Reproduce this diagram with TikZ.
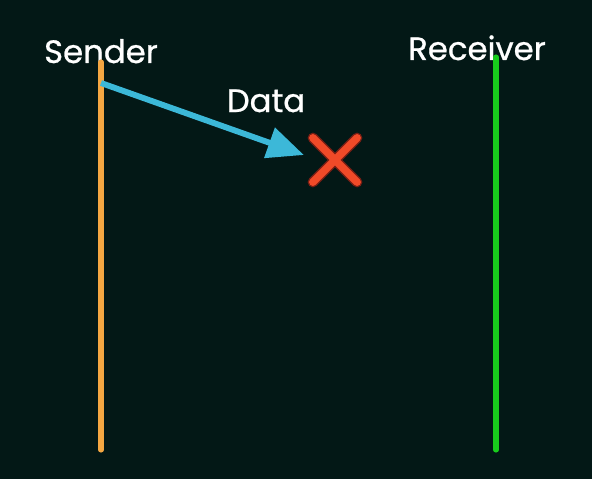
\documentclass[tikz,border=0pt]{standalone}
\usepackage{fontspec}
\setmainfont{Poppins}
\newfontfamily\labelfont{Poppins}[FakeBold=0.8]
\usepackage{tikz}
\usetikzlibrary{arrows.meta,positioning,calc}
\definecolor{bgdark}{RGB}{3,24,22}
\definecolor{sendline}{RGB}{245,167,66}
\definecolor{recvline}{RGB}{24,204,28}
\definecolor{datablue}{RGB}{60,184,216}
\definecolor{lostred}{RGB}{240,74,40}
\definecolor{lostedge}{RGB}{120,30,20}
\tikzstyle{label} = [text=white, font=\labelfont\fontsize{23}{27}\selectfont, inner sep=0pt, anchor=base]
\tikzstyle{lifeline} = [line width=3.6pt, line cap=round]
\tikzstyle{lost} = [rectangle, minimum size=31pt, inner sep=0pt]

\begin{document}
\begin{tikzpicture}[x=0.025cm, y=-0.025cm, >={Triangle[length=26pt, width=22pt]}]
    % 背景
    \fill[bgdark] (0,0) rectangle (592,479);
    
    % 发送方和接收方
    \node[label] (sender) at (101,63) {Sender};
    \node[label] (receiver) at (477,60) {Receiver};
    \coordinate (sendtop) at (101,62);
    \coordinate (sendbot) at (101,450);
    \coordinate (recvtop) at (496,57);
    \coordinate (recvbot) at (496,450);
    \coordinate (sendout) at (101,83);
    
    % 丢失的数据
    \node[lost] (drop) at (335,160) {};
    \node[label] (data) at (266,112) {Data};
    
    % 连接
    \draw[lifeline, sendline] (sendtop) -- (sendbot);
    \draw[lifeline, recvline] (recvtop) -- (recvbot);
    \draw[->, datablue, line width=4.2pt] (sendout) -- ($(drop.west)+(-9,-5)$);
    
    % 叉号
    \draw[lostedge, line width=7.5pt, line cap=round] (drop.north west) -- (drop.south east) (drop.south west) -- (drop.north east);
    \draw[lostred, line width=5.5pt, line cap=round] (drop.north west) -- (drop.south east) (drop.south west) -- (drop.north east);
\end{tikzpicture}
\end{document}
